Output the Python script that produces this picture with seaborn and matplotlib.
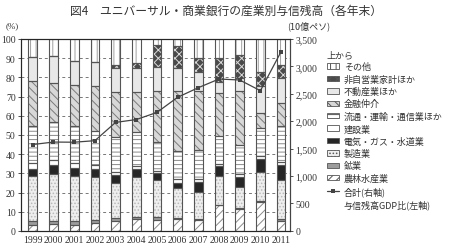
import numpy as np
import pandas as pd
import matplotlib
matplotlib.use('Agg')
import matplotlib.pyplot as plt
from matplotlib.patches import Patch
from matplotlib.lines import Line2D
import seaborn as sns

years = ['1999', '2000', '2001', '2002', '2003', '2004', '2005',
         '2006', '2007', '2008', '2009', '2010', '2011']

# shares (%) of each industry, bottom to top
agri = [3.0, 3.5, 3.0, 4.0, 5.0, 6.0, 5.8, 6.0, 5.5, 13.4, 11.3, 15.0, 5.0]
mining = [2.0, 1.7, 2.0, 1.5, 1.6, 1.0, 1.2, 0.6, 0.6, 0.3, 0.5, 0.5, 1.0]
manuf = [23.5, 24.3, 23.5, 22.5, 18.6, 21.2, 19.4, 15.7, 14.4, 15.0, 11.3, 15.0, 20.5]
elec = [3.7, 4.8, 4.5, 4.5, 4.0, 4.0, 3.7, 2.9, 5.2, 4.9, 5.1, 7.0, 8.0]
constr = [3.0, 2.7, 2.5, 1.8, 1.5, 1.8, 1.0, 1.8, 1.3, 1.4, 1.3, 1.5, 1.5]
trade = [19.2, 19.5, 19.0, 17.9, 18.0, 17.3, 15.3, 14.4, 15.0, 14.6, 15.4, 14.5, 18.4]
finance = [23.9, 20.5, 21.5, 23.5, 23.5, 20.9, 26.6, 31.6, 30.7, 22.4, 28.1, 8.0, 12.2]
realestate = [12.1, 14.0, 12.3, 12.5, 12.9, 12.9, 12.2, 11.9, 9.9, 5.7, 6.5, 14.0, 12.9]
household = [0.0, 0.0, 0.0, 0.0, 1.2, 2.5, 11.7, 11.6, 7.3, 12.2, 12.2, 7.4, 7.0]
other = [100 - sum(v) for v in zip(agri, mining, manuf, elec, constr, trade,
                                   finance, realestate, household)]

# total outstanding loans (billion pesos, right axis)
total = [1575, 1620, 1617, 1645, 1978, 2030, 2160, 2436, 2611, 2769, 2751, 2556, 3268]

series = [
    ('農林水産業', agri, 'white', '////', '#8a8a8a'),
    ('鉱業', mining, '#9c9c9c', '', '#9c9c9c'),
    ('製造業', manuf, '#eeeeee', '.....', '#b8b8b8'),
    ('電気・ガス・水道業', elec, '#262626', '', '#262626'),
    ('建設業', constr, 'white', '', 'white'),
    ('流通・運輸・通信業ほか', trade, 'white', '----', '#8a8a8a'),
    ('金融仲介', finance, '#d8d8d8', '\\\\\\\\', '#7a7a7a'),
    ('不動産業ほか', realestate, '#e8e8e8', '', '#e8e8e8'),
    ('非自営業家計ほか', household, '#4a4a4a', 'xxxx', '#dcdcdc'),
    ('その他', other, 'white', '|||', '#a0a0a0'),
]

sns.set_style('white')
plt.rcParams['font.family'] = ['Noto Sans CJK JP', 'DejaVu Sans']
plt.rcParams['hatch.linewidth'] = 0.7

fig = plt.figure(figsize=(4.51, 2.51), dpi=100)
ax = fig.add_axes([0.047, 0.076, 0.596, 0.765])

x = np.arange(len(years))
w = 0.42
bottom = np.zeros(len(years))
edge = '#555555'
handles = []
for name, vals, fc, hatch, hc in series:
    vals = np.array(vals)
    ax.bar(x, vals, w, bottom=bottom, color=fc, hatch=hatch or None,
           edgecolor=hc, linewidth=0, zorder=2)
    ax.bar(x, vals, w, bottom=bottom, fill=False, edgecolor=edge,
           linewidth=0.8, zorder=3)
    handles.append(Patch(facecolor=fc, hatch=hatch or None, edgecolor=edge,
                         linewidth=0.6, label=name))
    bottom += vals

ax.set_xlim(-0.56, 12.43)
ax.set_ylim(0, 100)
ax.set_yticks(range(0, 101, 10))
ax.set_xticks(x)
ax.set_xticklabels(years)
for yy in range(10, 100, 10):
    ax.axhline(yy, color='#777777', lw=0.7, ls=(0, (3, 3)), zorder=1)

for sp in ax.spines.values():
    sp.set_color('#444444')
    sp.set_linewidth(0.8)

ax2 = ax.twinx()
df = pd.DataFrame({'x': x, 'total': total})
sns.lineplot(data=df, x='x', y='total', ax=ax2, color='#444444', lw=0.9,
             marker='s', markersize=3, markeredgewidth=0, zorder=5)
ax2.set_ylim(0, 3500)
ax2.set_yticks(range(0, 3501, 500))
ax2.set_yticklabels([f'{v:,}' for v in range(0, 3501, 500)])
ax2.set_xlabel('')
ax2.set_ylabel('')
ax2.spines['right'].set_color('#444444')

for a in (ax, ax2):
    a.tick_params(axis='both', length=2, width=0.6, colors='#333333', pad=2)
    for lab in a.get_xticklabels() + a.get_yticklabels():
        lab.set_fontfamily('Liberation Serif')
        lab.set_fontsize(7)
ax.tick_params(axis='x', length=0, pad=3)

fig.text(0.5, 0.955, '図4　ユニバーサル・商業銀行の産業別与信残高（各年末）',
         ha='center', va='center', fontsize=8.5, color='#333333')
fig.text(0.012, 0.895, '(%)', fontsize=6.5, va='center', color='#333333',
         family=['Liberation Serif', 'Noto Sans CJK JP'])
fig.text(0.637, 0.895, '(10億ペソ)', fontsize=6.5, va='center', color='#333333')

line_h = Line2D([], [], color='#444444', lw=0.9, marker='s', markersize=3,
                markeredgewidth=0, label='合計(右軸)')
blank = Patch(facecolor='none', edgecolor='none', label='与信残高GDP比(左軸)')
leg = fig.legend(handles=handles[::-1] + [line_h, blank],
                 loc='upper left', bbox_to_anchor=(0.715, 0.815),
                 frameon=False, fontsize=6.5, title='上から',
                 title_fontsize=6.5, alignment='left',
                 handlelength=1.3, handleheight=0.55, handletextpad=0.55,
                 labelspacing=0.36, borderpad=0)
for t in leg.get_texts():
    t.set_color('#333333')
leg.get_title().set_color('#333333')

fig.savefig('out.png', dpi=100)
